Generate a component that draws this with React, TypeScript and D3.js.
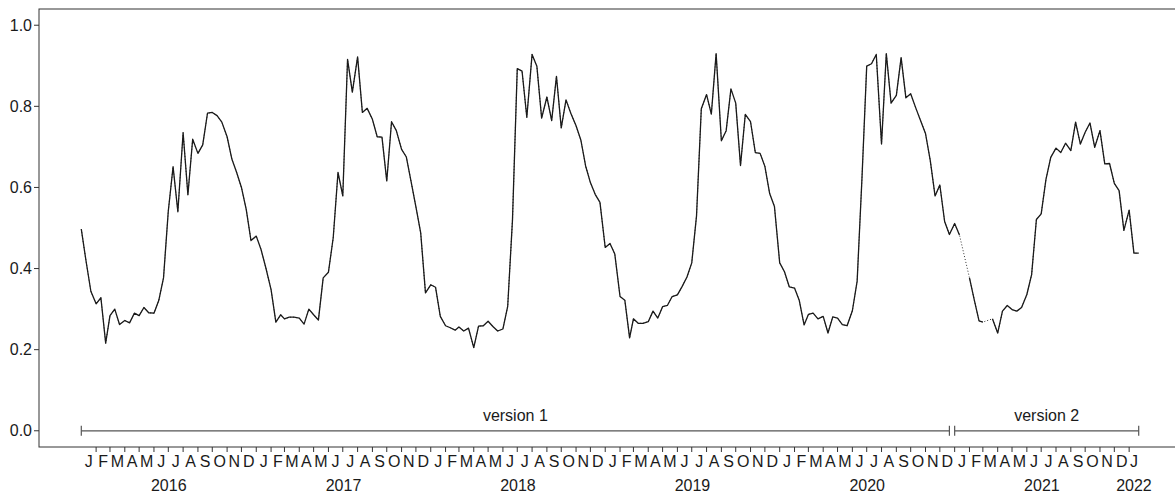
import React from "react";
import * as d3 from "d3";

// ---- data (dekadal values: 1st, 11th, 21st of each month) ----
const YEARS = [2016, 2017, 2018, 2019, 2020, 2021, 2022];
const MONTH_LABELS = ["J", "F", "M", "A", "M", "J", "J", "A", "S", "O", "N", "D"];
const DEKAD_DAYS = [1, 11, 21];
const Y_TICKS = [0, 0.2, 0.4, 0.6, 0.8, 1.0];

const v2016 = [
  0.497, 0.418, 0.344, 0.313, 0.328, 0.216, 0.284, 0.300, 0.262, 0.272, 0.266, 0.290,
  0.284, 0.304, 0.291, 0.290, 0.321, 0.377, 0.542, 0.651, 0.540, 0.735, 0.582, 0.719,
  0.684, 0.705, 0.783, 0.785, 0.777, 0.761, 0.725, 0.670, 0.637, 0.600, 0.546, 0.469,
];
const v2017 = [
  0.480, 0.447, 0.402, 0.348, 0.268, 0.286, 0.276, 0.280, 0.280, 0.278, 0.263, 0.300,
  0.286, 0.273, 0.377, 0.391, 0.476, 0.637, 0.579, 0.916, 0.835, 0.922, 0.785, 0.795,
  0.768, 0.725, 0.724, 0.616, 0.762, 0.740, 0.694, 0.675, 0.614, 0.552, 0.488, 0.340,
];
const v2018 = [
  0.360, 0.354, 0.282, 0.259, 0.254, 0.248, 0.256, 0.246, 0.253, 0.205, 0.258, 0.259,
  0.270, 0.257, 0.246, 0.251, 0.307, 0.520, 0.893, 0.887, 0.773, 0.928, 0.899, 0.771,
  0.823, 0.765, 0.874, 0.747, 0.816, 0.783, 0.752, 0.717, 0.653, 0.612, 0.583, 0.563,
];
const v2019 = [
  0.452, 0.462, 0.436, 0.331, 0.322, 0.229, 0.276, 0.265, 0.265, 0.269, 0.295, 0.278,
  0.306, 0.309, 0.331, 0.335, 0.356, 0.379, 0.414, 0.530, 0.794, 0.829, 0.781, 0.930,
  0.715, 0.740, 0.843, 0.808, 0.654, 0.780, 0.762, 0.686, 0.684, 0.652, 0.585, 0.553,
];
const v2020 = [
  0.414, 0.392, 0.355, 0.352, 0.321, 0.261, 0.287, 0.290, 0.276, 0.282, 0.241, 0.281,
  0.278, 0.262, 0.259, 0.296, 0.369, 0.620, 0.899, 0.905, 0.928, 0.707, 0.930, 0.808,
  0.827, 0.920, 0.821, 0.831, 0.798, 0.767, 0.733, 0.666, 0.579, 0.606, 0.516, 0.484,
];
const v2021 = [
  0.511, 0.483, null, 0.377, 0.323, 0.271, 0.268, null, 0.276, 0.241, 0.295, 0.309,
  0.299, 0.295, 0.304, 0.336, 0.385, 0.521, 0.535, 0.620, 0.674, 0.697, 0.686, 0.709,
  0.691, 0.761, 0.707, 0.736, 0.759, 0.699, 0.740, 0.658, 0.659, 0.610, 0.592, 0.494,
];
const v2022 = [0.544, 0.438, 0.438];

const YEAR_VALUES: (number | null)[][] = [v2016, v2017, v2018, v2019, v2020, v2021, v2022];

const VERSION_LABELS = ["version 1", "version 2"];
const VERSION_STARTS = [new Date(2016, 0, 1), new Date(2021, 0, 1)];
const VERSION_ENDS = [new Date(2020, 11, 21), new Date(2022, 0, 21)];

type Pt = { date: Date; value: number | null };

const data: Pt[] = YEAR_VALUES.flatMap((vals, yi) =>
  vals.map((v, i) => ({
    date: new Date(YEARS[yi], Math.floor(i / 3), DEKAD_DAYS[i % 3]),
    value: v,
  }))
);

// ---- layout ----
const W = 1175;
const H = 494;
const PLOT_LEFT = 39;
const PLOT_RIGHT = 1181;
const PLOT_TOP = 9;
const PLOT_BOTTOM = 447;
const FONT = "'Liberation Sans', Arial, Helvetica, sans-serif";
const TEXT_COLOR = "#1a1a1a";

export default function App() {
  const t0 = data[0].date.getTime();
  const t1 = data[data.length - 1].date.getTime();
  const span = t1 - t0;
  const x = d3
    .scaleTime()
    .domain([new Date(t0 - 0.04 * span), new Date(t1 + 0.04 * span)])
    .range([PLOT_LEFT, PLOT_RIGHT]);
  const y = d3.scaleLinear().domain([-0.04, 1.04]).range([PLOT_BOTTOM, PLOT_TOP]);

  const solid = d3
    .line<Pt>()
    .defined((d) => d.value !== null)
    .x((d) => x(d.date))
    .y((d) => y(d.value as number));
  const dotted = d3
    .line<Pt>()
    .x((d) => x(d.date))
    .y((d) => y(d.value as number));
  const nonNull = data.filter((d) => d.value !== null);

  const lastDate = data[data.length - 1].date;
  const firstMonth = new Date(YEARS[0], 0, 1);
  const months = d3.timeMonth.range(firstMonth, d3.timeDay.offset(lastDate, 1));
  const monthCenter = (m: Date) => {
    const next = d3.timeMonth.offset(m, 1);
    const end = next > lastDate ? lastDate : next;
    return (x(m) + x(end)) / 2;
  };
  const yearCenter = (yr: number) => {
    const s = new Date(yr, 0, 1);
    const n = new Date(yr + 1, 0, 1);
    const e = n > lastDate ? lastDate : n;
    return (x(s) + x(e)) / 2;
  };
  const tickMonths = months.slice(1);

  const y0 = y(0);

  return (
    <svg
      width={W}
      height={H}
      style={{ position: "absolute", left: 0, top: 0, background: "#fff" }}
      fontFamily={FONT}
    >
      <rect x={0} y={0} width={W} height={H} fill="#fff" />
      {/* frame */}
      <rect
        x={PLOT_LEFT}
        y={PLOT_TOP}
        width={PLOT_RIGHT - PLOT_LEFT}
        height={PLOT_BOTTOM - PLOT_TOP}
        fill="none"
        stroke="#333"
        strokeWidth={1}
      />
      {/* y axis */}
      {Y_TICKS.map((t) => (
        <g key={t}>
          <line x1={PLOT_LEFT - 5} x2={PLOT_LEFT} y1={y(t)} y2={y(t)} stroke="#333" />
          <text
            x={PLOT_LEFT - 7}
            y={y(t)}
            dy="0.35em"
            textAnchor="end"
            fontSize={16}
            fill={TEXT_COLOR}
          >
            {t.toFixed(1)}
          </text>
        </g>
      ))}
      {/* x axis month ticks */}
      {tickMonths.map((m, i) => (
        <line
          key={"t" + i}
          x1={x(m)}
          x2={x(m)}
          y1={PLOT_BOTTOM}
          y2={PLOT_BOTTOM + 5}
          stroke="#333"
        />
      ))}
      {months.map((m, i) => (
        <text
          key={"m" + i}
          x={monthCenter(m)}
          y={467}
          textAnchor="middle"
          fontSize={16}
          fill={TEXT_COLOR}
        >
          {MONTH_LABELS[m.getMonth()]}
        </text>
      ))}
      {YEARS.map((yr) => (
        <text
          key={"y" + yr}
          x={yearCenter(yr)}
          y={491}
          textAnchor="middle"
          fontSize={16}
          fill={TEXT_COLOR}
        >
          {yr}
        </text>
      ))}
      {/* version bars */}
      {VERSION_LABELS.map((lab, i) => {
        const xs = x(VERSION_STARTS[i]);
        const xe = x(VERSION_ENDS[i]);
        return (
          <g key={lab}>
            <line x1={xs} x2={xe} y1={y0} y2={y0} stroke="#555" strokeWidth={1.2} />
            <line x1={xs} x2={xs} y1={y0 - 5} y2={y0 + 5} stroke="#555" strokeWidth={1.2} />
            <line x1={xe} x2={xe} y1={y0 - 5} y2={y0 + 5} stroke="#555" strokeWidth={1.2} />
            <text
              x={(xs + xe) / 2}
              y={y0 - 10}
              textAnchor="middle"
              fontSize={16}
              fill={TEXT_COLOR}
            >
              {lab}
            </text>
          </g>
        );
      })}
      {/* data */}
      <path
        d={dotted(nonNull) || ""}
        fill="none"
        stroke="#333"
        strokeWidth={1}
        strokeDasharray="1,2"
      />
      <path d={solid(data) || ""} fill="none" stroke="#1a1a1a" strokeWidth={1.3} strokeLinejoin="round" />
    </svg>
  );
}
